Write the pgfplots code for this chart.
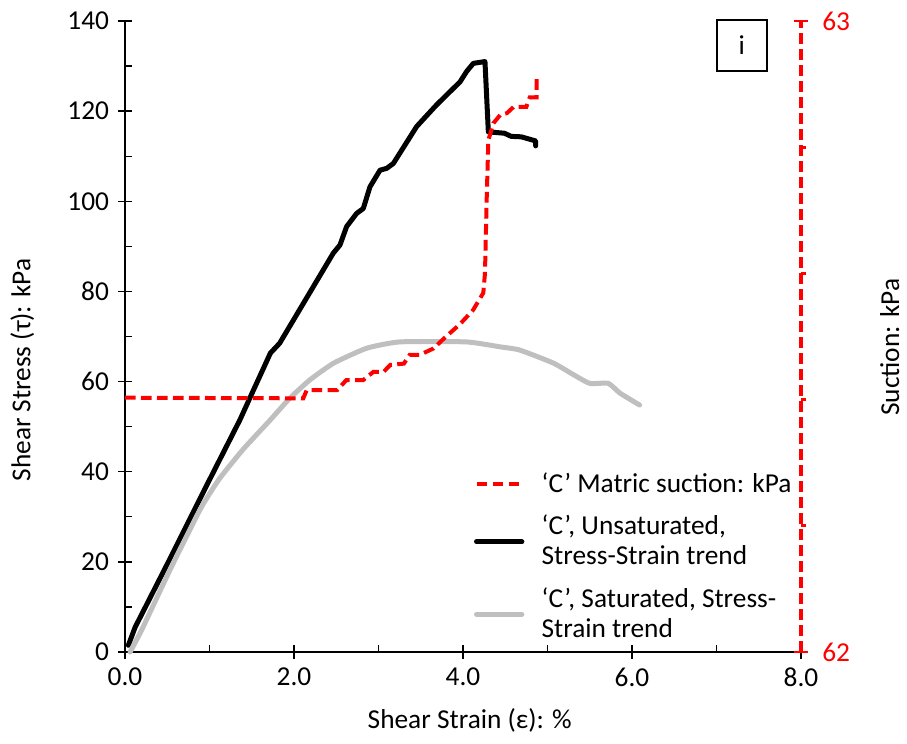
\documentclass[border=0pt]{standalone}
\usepackage{fontspec}
\setmainfont{Carlito}
\usepackage{pgfplots}
\pgfplotsset{compat=1.18}
\definecolor{satgray}{RGB}{191,191,191}
\begin{document}
\fontsize{20.5}{22.5}\selectfont
\begin{tikzpicture}
\useasboundingbox (-93.75pt,-68.25pt) rectangle (586.5pt,489pt);
\begin{axis}[
  at={(0,0)}, anchor=south west,
  scale only axis, width=507pt, height=473.25pt,
  xmin=0, xmax=8, ymin=0, ymax=140,
  axis x line*=bottom, axis y line*=left,
  axis line style={line width=1pt},
  xtick={0,2,4,6,8}, minor x tick num=1,
  ytick={0,20,...,140}, minor y tick num=1,
  tick align=center,
  major tick length=10pt, minor tick length=5pt,
  every tick/.style={black, line width=1pt},
  every minor y tick/.style={xshift=2.5pt},
  every minor x tick/.style={yshift=2.5pt},
  /pgf/number format/assume math mode=true,
  xticklabel style={/pgf/number format/.cd, fixed, fixed zerofill, precision=1},
  legend cell align=left,
  legend style={at={(axis cs:4.08,40.5)}, anchor=north west, draw=none, fill=none,
    row sep=14pt, nodes={align=left, inner sep=0pt}},
  legend image code/.code={\draw[#1] (0pt,0pt) -- (34pt,0pt); \path (47pt,0pt);},
  clip=false,
]
\addlegendimage{red, line width=3pt, dash pattern=on 8pt off 4pt}
\addlegendentry{‘C’ Matric suction: kPa}
\addplot[black, line width=3.75pt, line join=round, line cap=round] coordinates {
(0.04,1.5)(0.12,5.5)(0.5,19.5)(1.0,38.2)(1.36,51.5)(1.52,58.1)(1.64,63.0)(1.72,66.3)
(1.83,68.5)(2.1,77)(2.465,88.5)(2.544,90.3)(2.623,94.4)(2.741,97.3)(2.82,98.4)
(2.899,103.2)(3.018,106.9)(3.097,107.3)(3.176,108.4)(3.452,116.6)(3.688,121.4)
(3.965,126.5)(4.043,128.8)(4.122,130.6)(4.26,131.0)(4.30,115.4)(4.49,115.1)
(4.57,114.4)(4.69,114.3)(4.82,113.6)(4.86,113.4)(4.86,112.3)};
\addlegendentry{‘C’, Unsaturated,\\Stress-Strain trend}
\addplot[satgray, line width=3.75pt, line join=round, line cap=round, smooth, tension=0.3] coordinates {
(0.06,0)(0.2,5)(0.55,18.9)(0.9,32)(1.12,38.5)(1.40,45)(1.72,51.5)(1.95,56.3)
(2.19,60.4)(2.47,64.1)(2.86,67.4)(3.25,68.8)(4.04,68.8)(4.44,67.7)(4.67,67.0)
(5.07,64.1)(5.31,61.5)(5.50,59.6)(5.72,59.6)(5.86,57.4)(6.09,54.8)};
\addlegendentry{‘C’, Saturated, Stress-\\Strain trend}
\node[draw, line width=1.5pt, minimum size=38pt, inner sep=0pt] at (axis cs:7.30,134.6) {i};
\node[xshift=-77pt, rotate=90] at (rel axis cs:0,0.447) {Shear Stress (τ): kPa};
\node[yshift=-51pt] at (rel axis cs:0.51,0) {Shear Strain (ε): \%};
\end{axis}
\begin{axis}[
  at={(0,0)}, anchor=south west,
  scale only axis, width=507pt, height=473.25pt,
  xmin=0, xmax=8, ymin=62, ymax=63,
  axis x line=none, axis y line*=right,
  y axis line style={red, line width=3pt, dash pattern=on 8pt off 4pt},
  ytick={62,63}, minor ytick={62.2,62.4,62.6,62.8},
  tick align=center,
  major tick length=10pt, minor tick length=4pt,
  every tick/.style={red, line width=2pt},
  every minor y tick/.style={xshift=2pt},
  yticklabel style={red, xshift=4pt},
  /pgf/number format/assume math mode=true,
  clip=false,
]
\addplot[red, line width=3pt, dash pattern=on 8pt off 4pt] coordinates {
(0,62.403)(2.11,62.402)(2.15,62.415)(2.51,62.415)(2.62,62.431)(2.82,62.431)
(2.94,62.444)(3.06,62.444)(3.14,62.455)(3.30,62.457)(3.37,62.471)(3.49,62.471)
(3.65,62.481)(3.80,62.500)(3.96,62.519)(4.12,62.542)(4.24,62.569)(4.26,62.600)
(4.28,62.716)(4.30,62.811)(4.36,62.838)(4.44,62.851)(4.52,62.854)(4.60,62.864)
(4.75,62.864)(4.79,62.879)(4.87,62.879)(4.87,62.909)};
\node[xshift=66.5pt, rotate=90] at (rel axis cs:1,0.483) {Suction: kPa};
\end{axis}
\end{tikzpicture}
\end{document}
